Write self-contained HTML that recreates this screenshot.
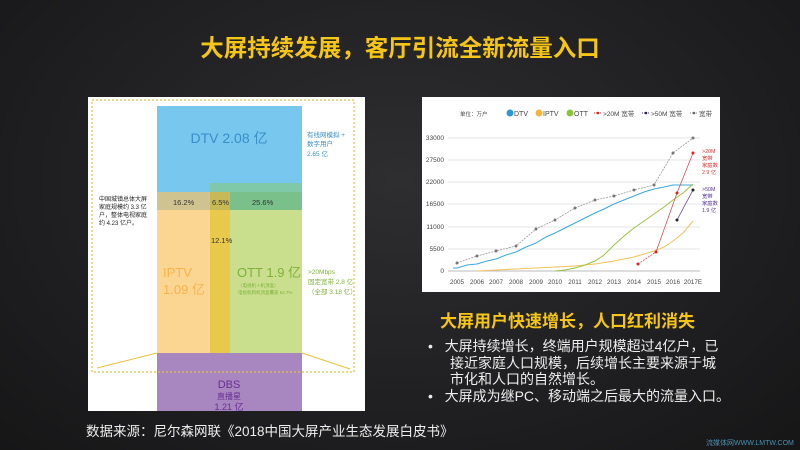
<!DOCTYPE html>
<html><head><meta charset="utf-8"><style>
html,body{margin:0;padding:0}
body{width:800px;height:450px;overflow:hidden;position:relative;background:radial-gradient(ellipse at 50% 40%,#2e2e30 0%,#1d1d1f 70%,#161617 100%);font-family:"Liberation Sans","Noto Sans CJK SC",sans-serif}
.a{position:absolute;white-space:nowrap}
</style></head><body>
<div class="a" style="left:0;width:800px;top:33px;text-align:center;color:#f5c518;font-size:23.5px;font-weight:bold;line-height:30px">大屏持续发展，客厅引流全新流量入口</div>

<svg class="a" style="left:0;top:0" width="800" height="450">
<rect x="88" y="97" width="277" height="314" fill="#fff"/>
<rect x="157" y="106" width="145" height="86" fill="#77c7ee"/>
<rect x="157" y="192" width="53" height="161" fill="#fbd592"/>
<rect x="230" y="183" width="72" height="170" fill="#c9df8e"/>
<rect x="210" y="183" width="92" height="9" fill="#80c9a8"/>
<rect x="157" y="192" width="53" height="18" fill="#cfc38f"/>
<rect x="210" y="192" width="20" height="18" fill="#c7ba56"/>
<rect x="230" y="192" width="72" height="18" fill="#79c08b"/>
<rect x="210" y="210" width="20" height="143" fill="#e9c94c"/>
<rect x="157" y="353" width="145" height="58" fill="#a886bf"/>
<rect x="92" y="100" width="262" height="272" fill="none" stroke="#e8c03a" stroke-width="1.2" stroke-dasharray="2,2"/>
<line x1="157" y1="353" x2="97" y2="368" stroke="#e8c03a" stroke-width="1"/>
<line x1="302" y1="353" x2="350" y2="369" stroke="#e8c03a" stroke-width="1"/>
<g font-family="Liberation Sans,Noto Sans CJK SC,sans-serif">
<text x="229" y="143" font-size="14" fill="#3a8fc9" text-anchor="middle">DTV 2.08 亿</text>
<text x="307" y="137" font-size="6.5" fill="#3a8fc9">有线网模拟 +</text>
<text x="307" y="146" font-size="6.5" fill="#3a8fc9">数字用户</text>
<text x="307" y="156" font-size="6.5" fill="#3a8fc9">2.65 亿</text>
<text x="173" y="205" font-size="7.5" fill="#333">16.2%</text>
<text x="212" y="205" font-size="7.5" fill="#333">6.5%</text>
<text x="252" y="205" font-size="7.5" fill="#333">25.6%</text>
<text x="211" y="243" font-size="7.5" fill="#333">12.1%</text>
<text x="99" y="201" font-size="6" fill="#222">中国城镇总体大屏</text>
<text x="99" y="209" font-size="6" fill="#222">家庭规模约 3.3 亿</text>
<text x="99" y="217" font-size="6" fill="#222">户，整体电视家庭</text>
<text x="99" y="225" font-size="6" fill="#222">约 4.23 亿户。</text>
<text x="163" y="277" font-size="13" fill="#f7b54a">IPTV</text>
<text x="163" y="294" font-size="13" fill="#f7b54a">1.09 亿</text>
<text x="237" y="277" font-size="13" fill="#7fb03a">OTT 1.9 亿</text>
<text x="238" y="287" font-size="4.5" fill="#7fb03a">（电视机＋机顶盒）</text>
<text x="238" y="294" font-size="4.5" fill="#7fb03a">电视机和机顶盒覆盖 63.7%</text>
<text x="308" y="274" font-size="6.5" fill="#7fb03a">&gt;20Mbps</text>
<text x="308" y="284" font-size="6.5" fill="#7fb03a">固定宽带 2.8 亿</text>
<text x="308" y="294" font-size="6.5" fill="#7fb03a">（全部 3.18 亿）</text>
<text x="229" y="388" font-size="11" fill="#6a2f93" text-anchor="middle">DBS</text>
<text x="229" y="399" font-size="8" fill="#6a2f93" text-anchor="middle">直播星</text>
<text x="229" y="410" font-size="9" fill="#6a2f93" text-anchor="middle">1.21 亿</text>
</g>
<rect x="422" y="97" width="298" height="195" fill="#fff"/>
<g stroke="#e4e4e4" stroke-width="1">
<line x1="448" y1="138" x2="700" y2="138"/><line x1="448" y1="160" x2="700" y2="160"/><line x1="448" y1="182" x2="700" y2="182"/><line x1="448" y1="204" x2="700" y2="204"/><line x1="448" y1="227" x2="700" y2="227"/><line x1="448" y1="249" x2="700" y2="249"/><line x1="448" y1="271" x2="700" y2="271" stroke="#bbb"/>
</g>
<g font-size="6.5" fill="#444" text-anchor="end" font-family="Liberation Sans,sans-serif">
<text x="444" y="140">33000</text><text x="444" y="162">27500</text><text x="444" y="184">22000</text><text x="444" y="206">16500</text><text x="444" y="229">11000</text><text x="444" y="251">5500</text><text x="444" y="273">0</text>
</g>
<g font-size="6.3" fill="#444" text-anchor="middle" font-family="Liberation Sans,sans-serif">
<text x="457" y="284">2005</text><text x="477" y="284">2006</text><text x="496" y="284">2007</text><text x="516" y="284">2008</text><text x="536" y="284">2009</text><text x="555" y="284">2010</text><text x="575" y="284">2011</text><text x="595" y="284">2012</text><text x="614" y="284">2013</text><text x="634" y="284">2014</text><text x="654" y="284">2015</text><text x="673" y="284">2016</text><text x="693" y="284">2017E</text>
</g>
<g font-size="7" fill="#444" font-family="Liberation Sans,Noto Sans CJK SC,sans-serif">
<text x="460" y="116" font-size="5.5">单位：万户</text>
<circle cx="510" cy="113" r="3.5" fill="#2a9ad6"/><text x="514" y="116">DTV</text>
<circle cx="539" cy="113" r="3.5" fill="#f5b53a"/><text x="543" y="116">IPTV</text>
<circle cx="570" cy="113" r="3.5" fill="#8cc43c"/><text x="574" y="116">OTT</text>
<line x1="594" y1="113" x2="602" y2="113" stroke="#d33" stroke-dasharray="1,1"/><circle cx="598" cy="113" r="1.3" fill="#d22"/><text x="603" y="116" font-size="6.5">&gt;20M 宽带</text>
<line x1="642" y1="113" x2="650" y2="113" stroke="#537" stroke-dasharray="1,1"/><circle cx="646" cy="113" r="1.3" fill="#224"/><text x="651" y="116" font-size="6.5">&gt;50M 宽带</text>
<line x1="690" y1="113" x2="698" y2="113" stroke="#888" stroke-dasharray="1,1"/><circle cx="694" cy="113" r="1.3" fill="#666"/><text x="699" y="116" font-size="6.5">宽带</text>
</g>
<polyline fill="none" stroke="#3aa9d8" stroke-width="1" points="453,268 457,268 467,265 477,264 487,261 496,259 506,255 516,252 526,247 536,243 546,237 555,233 565,228 575,223 585,218 595,213 604,209 614,204 624,200 634,196 644,192 654,189 664,187 673,185 683,185 693,185"/>
<polyline fill="none" stroke="#f3c35c" stroke-width="1" points="477,271 496,270 516,269 536,268 555,267 575,266 595,264 614,261 634,257 654,251 664,247 673,241 683,233 693,221"/>
<polyline fill="none" stroke="#9bc43c" stroke-width="1" points="555,271 565,270 575,268 585,265 595,261 604,255 614,245 624,236 634,228 644,221 654,214 664,207 673,200 683,193 693,184"/>
<polyline fill="none" stroke="#999" stroke-width="0.8" stroke-dasharray="2,1" points="457,263 477,256 496,251 516,246 536,229 555,220 575,208 595,200 614,196 634,190 654,185 673,153 693,138"/>
<g fill="#777"><circle cx="457" cy="263" r="1.5"/><circle cx="477" cy="256" r="1.5"/><circle cx="496" cy="251" r="1.5"/><circle cx="516" cy="246" r="1.5"/><circle cx="536" cy="229" r="1.5"/><circle cx="555" cy="220" r="1.5"/><circle cx="575" cy="208" r="1.5"/><circle cx="595" cy="200" r="1.5"/><circle cx="614" cy="196" r="1.5"/><circle cx="634" cy="190" r="1.5"/><circle cx="654" cy="185" r="1.5"/><circle cx="673" cy="153" r="1.5"/><circle cx="693" cy="138" r="1.5"/></g>
<polyline fill="none" stroke="#e04a5a" stroke-width="0.8" stroke-dasharray="2,1" points="638,264 656,252"/>
<polyline fill="none" stroke="#e04a5a" stroke-width="0.8" points="656,252 677,193 693,153"/>
<g fill="#d22"><circle cx="638" cy="264" r="1.5"/><circle cx="656" cy="252" r="1.5"/><circle cx="677" cy="193" r="1.5"/><circle cx="693" cy="153" r="1.5"/></g>
<polyline fill="none" stroke="#7a5a9a" stroke-width="0.8" points="677,220 693,190"/>
<g fill="#223"><circle cx="677" cy="220" r="1.5"/><circle cx="693" cy="190" r="1.5"/></g>
<g font-size="5.3" font-family="Liberation Sans,Noto Sans CJK SC,sans-serif">
<text x="702" y="153" fill="#d33">&gt;20M</text><text x="702" y="160" fill="#d33">宽带</text><text x="702" y="167" fill="#d33">家庭数</text><text x="702" y="174" fill="#d33">2.9 亿</text>
<text x="702" y="191" fill="#539">&gt;50M</text><text x="702" y="198" fill="#539">宽带</text><text x="702" y="205" fill="#539">家庭数</text><text x="702" y="212" fill="#539">1.9 亿</text>
</g>
</svg>

<div class="a" style="left:440px;top:311px;color:#f5c518;font-size:17px;font-weight:bold;line-height:22px">大屏用户快速增长，人口红利消失</div>
<div class="a" style="left:428px;top:338px;color:#eee;font-size:14px;line-height:16.7px">
<div>•&nbsp;&nbsp;&nbsp;大屏持续增长，终端用户规模超过4亿户，已</div>
<div style="padding-left:22px">接近家庭人口规模，后续增长主要来源于城</div>
<div style="padding-left:22px">市化和人口的自然增长。</div>
<div>•&nbsp;&nbsp;&nbsp;大屏成为继PC、移动端之后最大的流量入口。</div>
</div>
<div class="a" style="left:86px;top:424px;color:#eee;font-size:13.5px;line-height:16px">数据来源：尼尔森网联《2018中国大屏产业生态发展白皮书》</div>
<div class="a" style="left:706px;top:440px;color:#4a8fb0;font-size:7px;line-height:8px">流媒体网WWW.LMTW.COM</div>
</body></html>
